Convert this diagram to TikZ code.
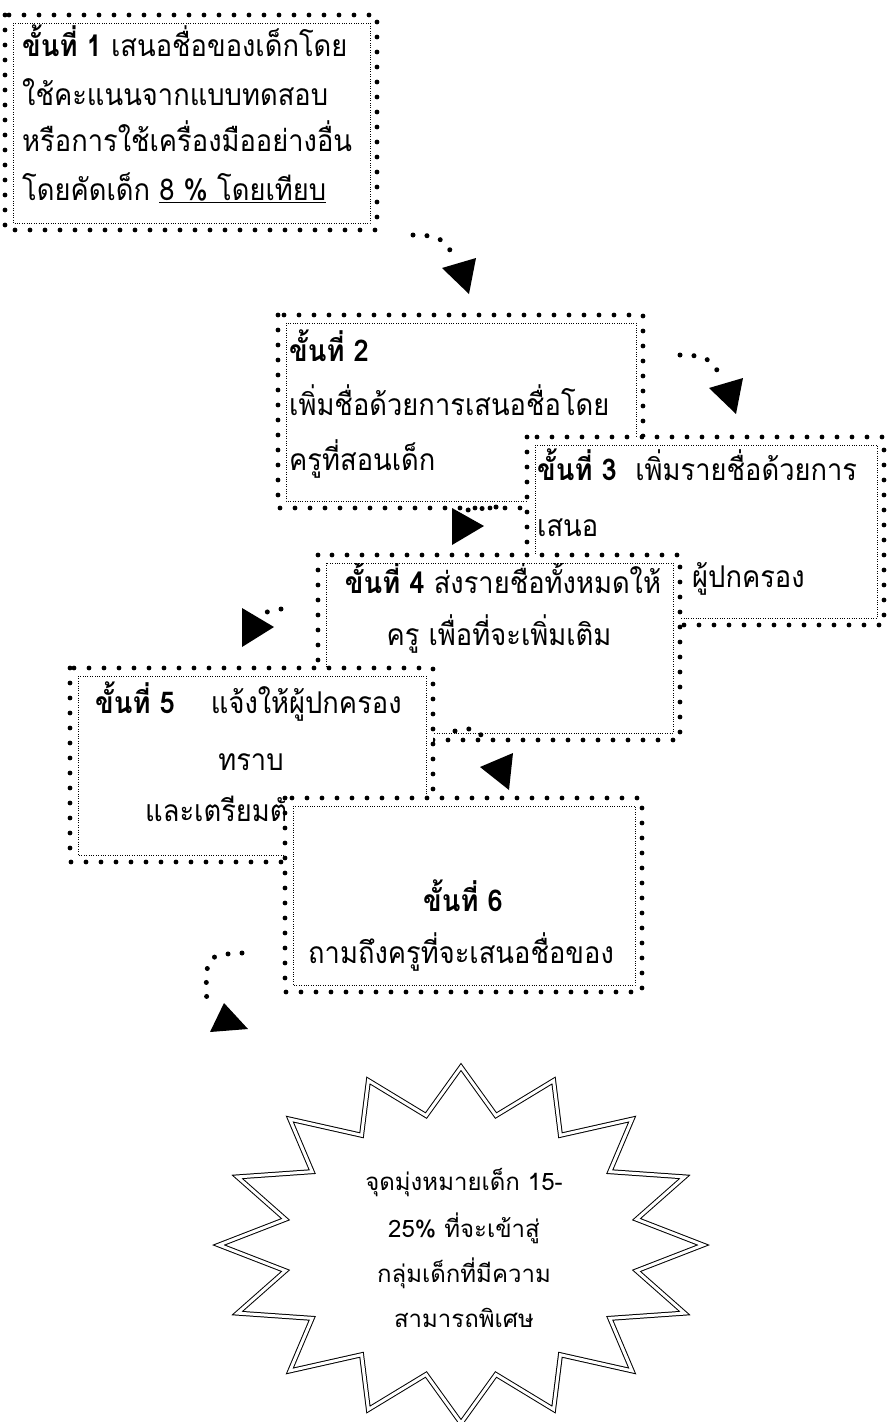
\documentclass[tikz,border=0pt]{standalone}
\usepackage{fontspec}
\newfontfamily\thaifont[Script=Thai, FakeStretch=0.91]{Loma}
\newfontfamily\starfont[Script=Thai]{Loma}
\tikzset{
  outerdots/.style={line width=4.8pt, line cap=round, dash pattern=on 0pt off 15pt},
  innerdots/.style={line width=0.7pt, dash pattern=on 0.7pt off 1.7pt},
  boxtxt/.style={font=\thaifont\fontsize{30}{34}\selectfont, inner sep=0pt},
  startxt/.style={font=\starfont\fontsize{24}{28}\selectfont, inner sep=0pt},
  dotarrow/.style={line width=5pt, line cap=round, dash pattern=on 0pt off 14pt},
  head/.style={fill=black},
  starline/.style={draw=black, line width=1pt, double=white, double distance=3pt, line join=miter},
}
\newcommand{\dotbox}[4]{%
  \fill[white] (#1,#2) rectangle (#3,#4);
  \draw[outerdots] (#1,#2) rectangle (#3,#4);
  \draw[innerdots] ({#1+8},{#2+8}) rectangle ({#3-7},{#4-7});
  \clip ({#1+8},{#2+8}) rectangle ({#3-7},{#4-7});
}
\begin{document}
\begin{tikzpicture}[x=1pt,y=-1pt]
\fill[white] (0,0) rectangle (887,1422);
\useasboundingbox (0,0) rectangle (887,1422);

% Box 1
\begin{scope}
\dotbox{5}{15}{377}{230}
\node[boxtxt, anchor=base west] (b1a) at (22,56) {\textbf{ขั้นที่ 1} เสนอชื่อของเด็กโดย};
\node[boxtxt, anchor=base west] (b1b) at (22,105) {ใช้คะแนนจากแบบทดสอบ};
\node[boxtxt, anchor=base west] (b1c) at (22,151) {หรือการใช้เครื่องมืออย่างอื่น};
\node[boxtxt, anchor=base west] (b1d) at (22,200) {โดยคัดเด็ก \underline{8 \% โดยเทียบ}};
\end{scope}

% Box 2
\begin{scope}
\dotbox{278}{315}{643}{508}
\node[boxtxt, anchor=base west] (b2a) at (289,361) {\textbf{ขั้นที่ 2}};
\node[boxtxt, anchor=base west] (b2b) at (289,415) {เพิ่มชื่อด้วยการเสนอชื่อโดย};
\node[boxtxt, anchor=base west] (b2c) at (289,470) {ครูที่สอนเด็ก};
\end{scope}

% Box 3
\begin{scope}
\dotbox{527}{437}{884}{625}
\node[boxtxt, anchor=base west] (b3a) at (537,480) {\textbf{ขั้นที่ 3}\ \ เพิ่มรายชื่อด้วยการ};
\node[boxtxt, anchor=base west] (b3b) at (537,536) {เสนอ};
\node[boxtxt, anchor=base west] (b3c) at (692,587) {ผู้ปกครอง};
\end{scope}

% Box 4
\begin{scope}
\dotbox{318}{555}{680}{740}
\node[boxtxt, anchor=base] (b4a) at (503,593) {\textbf{ขั้นที่ 4} ส่งรายชื่อทั้งหมดให้};
\node[boxtxt, anchor=base] (b4b) at (499,645) {ครู เพื่อที่จะเพิ่มเติม};
\end{scope}

% Box 5
\begin{scope}
\dotbox{70}{668}{433}{862}
\node[boxtxt, anchor=base west] (b5a) at (95,713) {\textbf{ขั้นที่ 5}\hspace{36pt}แจ้งให้ผู้ปกครอง};
\node[boxtxt, anchor=base] (b5b) at (251,770) {ทราบ};
\node[boxtxt, anchor=base west] (b5c) at (145,821) {และเตรียมตัว};
\end{scope}

% Box 6
\begin{scope}
\dotbox{285}{798}{642}{992}
\node[boxtxt, anchor=base] (b6a) at (463,911) {\textbf{ขั้นที่ 6}};
\node[boxtxt, anchor=base] (b6b) at (461,963) {ถามถึงครูที่จะเสนอชื่อของ};
\end{scope}

% Star
\coordinate (sc) at (461,1245);
\draw[starline] ({461+242*cos(90)},{1245-178*sin(90)})
  \foreach \i in {0,...,15}{
    -- ({461+179*cos(90+\i*22.5+11.25)},{1245-132*sin(90+\i*22.5+11.25)})
    -- ({461+242*cos(90+(\i+1)*22.5)},{1245-178*sin(90+(\i+1)*22.5)})
  } -- cycle;
\node[startxt, anchor=base] (s1) at (464,1190) {จุดมุ่งหมายเด็ก 15-};
\node[startxt, anchor=base] (s2) at (464,1237) {25\% ที่จะเข้าสู่};
\node[startxt, anchor=base] (s3) at (464,1282) {กลุ่มเด็กที่มีความ};
\node[startxt, anchor=base] (s4) at (464,1327) {สามารถพิเศษ};

% Arrows
\coordinate (a1s) at (413,235); \coordinate (a1e) at (455,257);
\draw[dotarrow] (a1s) .. controls (440,236) .. (a1e);
\fill[head] (442,268) -- (476,258) -- (469,294) -- cycle;

\coordinate (a2s) at (680,355); \coordinate (a2e) at (722,377);
\draw[dotarrow] (a2s) .. controls (707,356) .. (a2e);
\fill[head] (709,388) -- (743,378) -- (736,414) -- cycle;

\coordinate (a3s) at (496,507); \coordinate (a3e) at (468,510);
\draw[dotarrow] (a3s) -- (a3e);
\fill[head] (452,508) -- (452,545) -- (484,526) -- cycle;

\coordinate (a4s) at (281,609); \coordinate (a4e) at (267,612);
\draw[dotarrow] (a4s) -- (a4e);
\fill[head] (242,608) -- (242,647) -- (274,627) -- cycle;

\coordinate (a5s) at (455,731); \coordinate (a5e) at (489,746);
\draw[dotarrow] (a5s) .. controls (476,727) .. (a5e);
\fill[head] (480,767) -- (513,753) -- (509,790) -- cycle;

\coordinate (a6s) at (242,953); \coordinate (a6e) at (207,1007);
\draw[dotarrow] (a6s) .. controls (205,955) .. (a6e);
\fill[head] (210,1032) -- (224,1003) -- (248,1029) -- cycle;
\end{tikzpicture}
\end{document}
